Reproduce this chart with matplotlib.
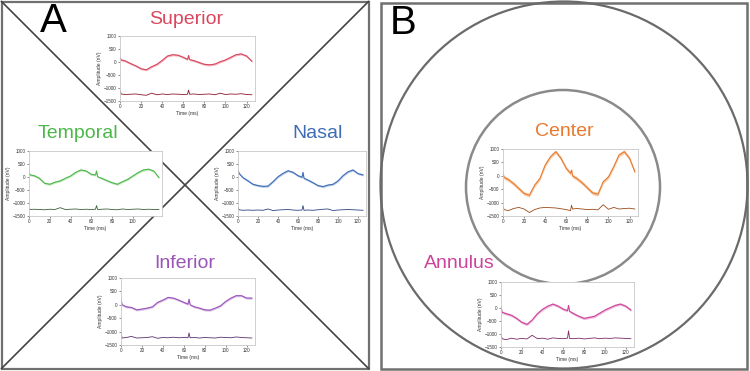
import numpy as np
import matplotlib
matplotlib.use("Agg")
import matplotlib.pyplot as plt
from matplotlib.patches import Rectangle, Circle

plt.rcParams['font.family'] = ['Liberation Sans', 'DejaVu Sans']

# time points (ms)
t = [0, 1, 5, 10, 15, 20, 25, 30, 35, 40, 45, 50, 55, 60, 64, 65, 66,
     70, 75, 80, 85, 90, 95, 100, 105, 110, 115, 120, 125]

# mean responses (nV) and lower (difference) traces
superior = [180, 80, 40, -60, -150, -260, -300, -180, -90, 60, 230, 280, 260, 180, 100, 250, 90,
            50, -20, -90, -110, -80, 10, 80, 180, 280, 310, 230, 30]
superior_low = [-1100, -1230, -1250, -1240, -1230, -1260, -1280, -1200, -1260, -1230, -1250, -1230, -1240, -1250, -1240, -1080, -1240,
                -1230, -1250, -1240, -1230, -1260, -1200, -1250, -1230, -1240, -1220, -1250, -1260]

temporal = [180, 80, 50, -50, -240, -280, -200, -150, -50, 40, 180, 270, 230, 100, 80, 230, 10,
            -50, -140, -220, -280, -180, -90, 40, 170, 270, 300, 230, -20]
temporal_low = [-1200, -1250, -1240, -1250, -1260, -1240, -1250, -1180, -1250, -1240, -1230, -1250, -1240, -1250, -1240, -1100, -1250,
                -1240, -1230, -1250, -1260, -1230, -1250, -1240, -1230, -1250, -1240, -1250, -1250]

nasal = [270, 140, -25, -150, -280, -330, -360, -350, -180, 10, 140, 240, 180, 50, -10, 180, -50,
         -120, -220, -330, -370, -310, -280, -150, 50, 200, 270, 130, 80]
nasal_low = [-1150, -1260, -1280, -1270, -1280, -1270, -1280, -1230, -1290, -1270, -1260, -1250, -1270, -1280, -1270, -1100, -1280,
             -1270, -1280, -1260, -1240, -1230, -1290, -1270, -1260, -1250, -1260, -1270, -1280]

inferior = [210, 0, -75, -100, -190, -160, -125, -75, 90, 175, 275, 250, 175, 90, 25, 210, 0,
            -75, -125, -190, -200, -125, -40, 125, 250, 340, 340, 250, 250]
inferior_low = [-1050, -1240, -1220, -1180, -1240, -1230, -1220, -1190, -1250, -1220, -1230, -1210, -1230, -1220, -1230, -1050, -1230,
                -1220, -1240, -1220, -1230, -1240, -1210, -1220, -1230, -1200, -1220, -1230, -1240]

center = [90, -60, -140, -290, -475, -660, -725, -350, -100, 400, 710, 900, 650, 275, 95, 210, -10,
          -100, -260, -450, -640, -690, -225, -40, 340, 775, 900, 650, 150]
center_low = [-1150, -1260, -1300, -1220, -1180, -1240, -1370, -1260, -1200, -1180, -1190, -1200, -1230, -1260, -1300, -1100, -1240,
              -1220, -1240, -1260, -1250, -1270, -1080, -1250, -1180, -1240, -1220, -1210, -1240]

annulus = [70, -165, -220, -280, -400, -550, -630, -460, -220, -50, 70, 150, 70, -50, -100, 100, -130,
           -220, -320, -400, -360, -320, -200, -80, 10, 100, 150, 70, -80]
annulus_low = [-1030, -1180, -1220, -1160, -1200, -1170, -1190, -1050, -1180, -1160, -1200, -1150, -1170, -1180, -1160, -880, -1170,
               -1180, -1160, -1190, -1170, -1150, -1180, -1160, -1170, -1150, -1160, -1170, -1180]

sem = {"Superior": 40, "Temporal": 40, "Nasal": 40, "Inferior": 40, "Center": 70, "Annulus": 50}

W, H = 750, 371
fig = plt.figure(figsize=(7.5, 3.71), dpi=100)
bg = fig.add_axes([0, 0, 1, 1])
bg.set_xlim(0, W)
bg.set_ylim(H, 0)
bg.axis("off")

# panel A frame and diagonals
bg.add_patch(Rectangle((1.5, 1.5), 367, 367, fill=False, ec="#707070", lw=1.6))
bg.plot([1.5, 368.5], [1.5, 368.5], color="#444444", lw=1.2)
bg.plot([368.5, 1.5], [1.5, 368.5], color="#444444", lw=1.2)

# panel B frame and circles
bg.add_patch(Rectangle((380.5, 2.5), 366.5, 366, fill=False, ec="#707070", lw=1.8))
bg.add_patch(Circle((564, 185), 183.5, fill=False, ec="#6a6a6a", lw=1.6))
bg.add_patch(Circle((563, 187), 97, fill=False, ec="#8a8a8a", lw=1.8))

bg.text(53, 21, "A", fontsize=29, ha="center", va="center", color="black")
bg.text(403, 23, "B", fontsize=29, ha="center", va="center", color="black")

panels = [
    # name, main, low, color, dark, band, title pos, axes box (px: x0, y0, x1, y1)
    ("Superior", superior, superior_low, "#d9475f", "#8b1a2a", "#f2b8c2", (186, 19), (120, 36, 255, 101)),
    ("Temporal", temporal, temporal_low, "#4cb84a", "#3d5e3d", "#c4e8c0", (78, 134), (29, 151, 162, 216)),
    ("Nasal", nasal, nasal_low, "#3e6db5", "#2a4580", "#b9cbe8", (318, 134), (238, 151, 366, 216)),
    ("Inferior", inferior, inferior_low, "#9a54b8", "#5a2f70", "#dcc2ea", (185, 263), (121, 278, 255, 345)),
    ("Center", center, center_low, "#e8792e", "#9a4a18", "#f8cfae", (564, 132), (503, 149, 638, 216)),
    ("Annulus", annulus, annulus_low, "#cc449a", "#7a2a68", "#efbcdc", (459, 263), (501, 282, 634, 347)),
]

for name, main, low, col, dark, band, tpos, box in panels:
    bg.text(tpos[0], tpos[1], name, fontsize=14, color=col, ha="center", va="center")
    x0, y0, x1, y1 = box
    ax = fig.add_axes([x0 / W, 1 - y1 / H, (x1 - x0) / W, (y1 - y0) / H])
    m = np.array(main)
    s = sem[name]
    ax.fill_between(t, m - s, m + s, color=band, lw=0)
    ax.plot(t, m, color=col, lw=0.8)
    ax.plot(t, low, color=dark, lw=0.6)
    ax.set_xlim(0, 128)
    ax.set_ylim(-1500, 1000)
    ax.set_yticks([-1500, -1000, -500, 0, 500, 1000])
    if name == "Temporal":
        ax.set_xticks([0, 20, 40, 60, 80, 100])
    else:
        ax.set_xticks([0, 20, 40, 60, 80, 100, 120])
    ax.tick_params(labelsize=3.3, length=1.5, width=0.4, pad=1, colors="#333333")
    for sp in ax.spines.values():
        sp.set_color("#c8c8c8")
        sp.set_linewidth(0.6)
    ax.set_xlabel("Time (ms)", fontsize=3.6, labelpad=1, color="#333333")
    ax.set_ylabel("Amplitude (nV)", fontsize=3.6, labelpad=1, color="#333333")

fig.savefig("out.png", dpi=100)
